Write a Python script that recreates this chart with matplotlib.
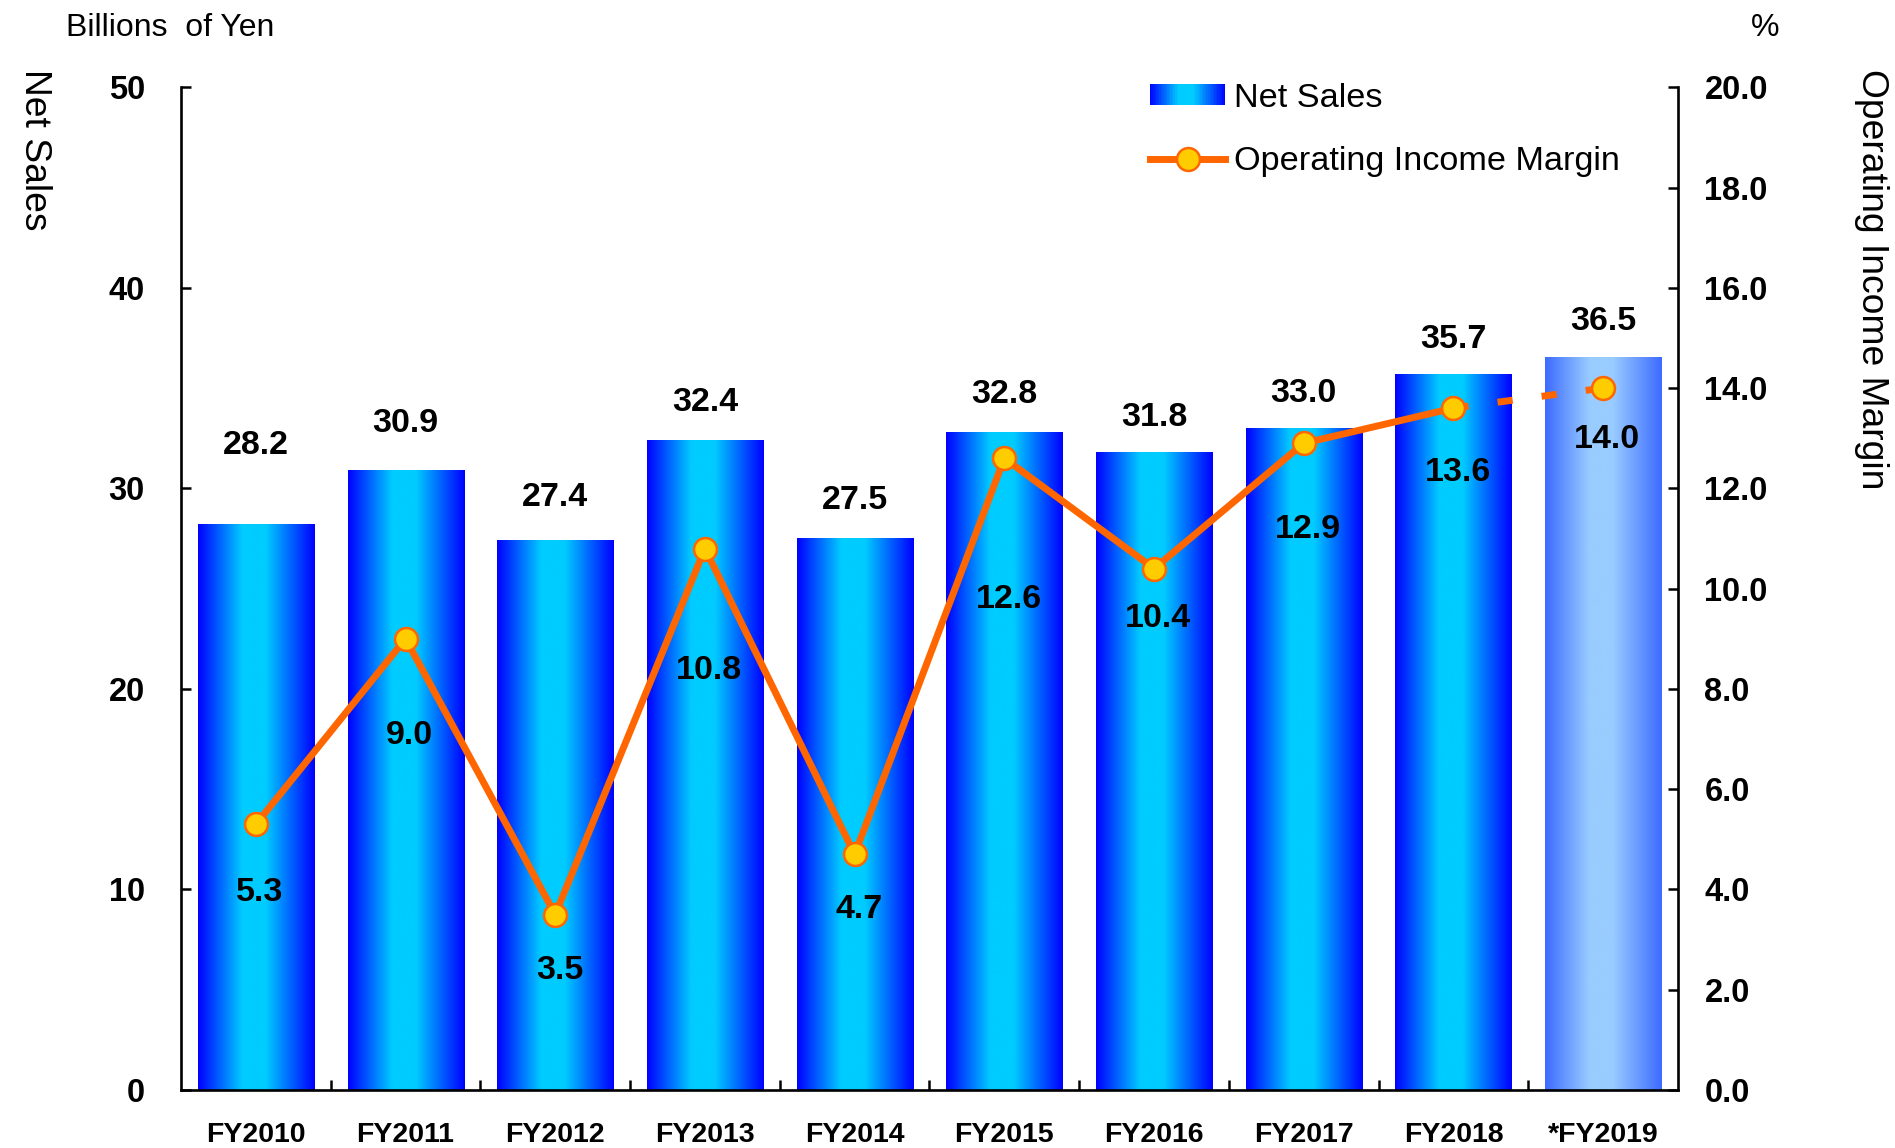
import numpy as np
import matplotlib
matplotlib.use("Agg")
import matplotlib.pyplot as plt
from matplotlib.colors import LinearSegmentedColormap
from matplotlib.legend_handler import HandlerBase
from matplotlib.lines import Line2D
from matplotlib.patches import Rectangle

plt.rcParams["font.family"] = ["Liberation Sans", "DejaVu Sans"]

# --- data -------------------------------------------------------------------
years = ["FY2010", "FY2011", "FY2012", "FY2013", "FY2014",
         "FY2015", "FY2016", "FY2017", "FY2018", "*FY2019"]
net_sales = [28.2, 30.9, 27.4, 32.4, 27.5, 32.8, 31.8, 33.0, 35.7, 36.5]
op_margin = [5.3, 9.0, 3.5, 10.8, 4.7, 12.6, 10.4, 12.9, 13.6, 14.0]

# label placement (points) relative to bar top / marker centre
sales_label_rise = [57, 34, 31, 27, 27, 27, 25, 25, 25, 26]
margin_label_drop = [49, 70, 40, 88, 40, 102, 36, 62, 46, 37]

ORANGE = "#FF6600"
YELLOW = "#FFCC00"
ACTUAL_COLORS = ["#0000FF", "#00CCFF", "#00CCFF", "#0000FF"]
FORECAST_COLORS = ["#3D6BFF", "#99CCFF", "#99CCFF", "#3D6BFF"]
GRAD_STOPS = [0.0, 0.38, 0.58, 1.0]


def make_cmap(colors):
    return LinearSegmentedColormap.from_list("g", list(zip(GRAD_STOPS, colors)))


class GradientHandler(HandlerBase):
    """Legend key drawn as a strip of thin rectangles following the bar gradient."""

    def __init__(self, colors, n=48):
        super().__init__()
        self.cmap = make_cmap(colors)
        self.n = n

    def create_artists(self, legend, orig_handle, xdescent, ydescent,
                       width, height, fontsize, trans):
        w = width / self.n
        arts = []
        for i in range(self.n):
            r = Rectangle((-xdescent + i * w, -ydescent), w * 1.05, height,
                          facecolor=self.cmap((i + 0.5) / self.n),
                          edgecolor="none", transform=trans)
            arts.append(r)
        return arts


fig = plt.figure(figsize=(18.95, 11.48), dpi=100)
ax = fig.add_axes([0.0955, 0.0505, 0.79, 0.8735])
ax2 = ax.twinx()

x = np.arange(len(years))
bars = ax.bar(x, net_sales, width=0.775, facecolor="none", linewidth=0)
grad = np.linspace(0, 1, 256).reshape(1, -1)
for i, rect in enumerate(bars):
    colors = FORECAST_COLORS if years[i].startswith("*") else ACTUAL_COLORS
    x0 = rect.get_x()
    ax.imshow(grad, cmap=make_cmap(colors), aspect="auto",
              extent=(x0, x0 + rect.get_width(), 0, rect.get_height()),
              zorder=2, interpolation="bicubic")
    ax.annotate(f"{net_sales[i]:.1f}", (x[i], net_sales[i]),
                xytext=(0, sales_label_rise[i]), textcoords="offset points",
                ha="center", va="center", fontsize=24.5, fontweight="bold")

ax.set_xlim(-0.5, len(years) - 0.5)
ax.set_ylim(0, 50)
ax2.set_ylim(0, 20)

# margin line: solid for actuals, dashed towards the forecast year
LW, MS = 5.0, 16.5
ax2.plot(x[-2:], op_margin[-2:], color=ORANGE, lw=LW,
         dashes=(2.2, 4.2), zorder=3)
ax2.plot(x[:-1], op_margin[:-1], color=ORANGE, lw=LW, marker="o",
         ms=MS, mfc=YELLOW, mec=ORANGE, mew=1.8, zorder=4)
ax2.plot(x[-1:], op_margin[-1:], linestyle="none", marker="o",
         ms=MS, mfc=YELLOW, mec=ORANGE, mew=1.8, zorder=4)
for i, v in enumerate(op_margin):
    ax2.annotate(f"{v:.1f}", (x[i], v), xytext=(3, -margin_label_drop[i]),
                 textcoords="offset points", ha="center", va="center",
                 fontsize=24.5, fontweight="bold", zorder=5)

# axes styling
for a in (ax, ax2):
    a.spines["top"].set_visible(False)
ax.spines["right"].set_visible(False)
ax2.spines["left"].set_visible(False)
ax2.spines["bottom"].set_visible(False)
for s in (ax.spines["left"], ax.spines["bottom"], ax2.spines["right"]):
    s.set_linewidth(1.9)

ax.set_yticks(np.arange(0, 51, 10),
              labels=[f"{v}" for v in range(0, 51, 10)],
              fontsize=23.5, fontweight="bold")
ax.tick_params(axis="y", direction="in", length=7, width=1.8, pad=26)
ax2.set_yticks(np.arange(0, 20.1, 2),
               labels=[f"{v:.1f}" for v in np.arange(0, 20.1, 2)],
               fontsize=23.5, fontweight="bold")
ax2.tick_params(axis="y", direction="in", length=7, width=1.8, pad=19)

ax.set_xticks(x, labels=years, fontsize=20.5, fontweight="bold")
ax.set_xticks(x[:-1] + 0.5, minor=True)
ax.tick_params(axis="x", which="major", length=0, pad=23)
ax.tick_params(axis="x", which="minor", direction="in", length=7, width=1.8)

# titles and units
fig.text(66 / 1895, 1 - 28 / 1148, "Billions  of Yen", fontsize=23,
         ha="left", va="center")
fig.text(1765 / 1895, 1 - 28 / 1148, "%", fontsize=23,
         ha="center", va="center")
fig.text(34 / 1895, 1 - 69 / 1148, "Net Sales", fontsize=26.8,
         rotation=270, ha="center", va="top")
fig.text(1871 / 1895, 1 - 69 / 1148, "Operating Income Margin", fontsize=26.8,
         rotation=270, ha="center", va="top")

# legend
bar_key = Rectangle((0, 0), 1, 1)
line_key = Line2D([], [], color=ORANGE, lw=LW, marker="o", ms=MS,
                  mfc=YELLOW, mec=ORANGE, mew=1.8)
ax2.legend([bar_key, line_key], ["Net Sales", "Operating Income Margin"],
           handler_map={bar_key: GradientHandler(ACTUAL_COLORS)},
           loc="upper left", bbox_to_anchor=(0.6068, 0.928),
           bbox_transform=fig.transFigure, frameon=False, fontsize=24.7,
           handlelength=2.2, handleheight=0.6, handletextpad=0.25,
           labelspacing=0.95, borderpad=0, borderaxespad=0, numpoints=1)

fig.savefig("out.png", dpi=100)
